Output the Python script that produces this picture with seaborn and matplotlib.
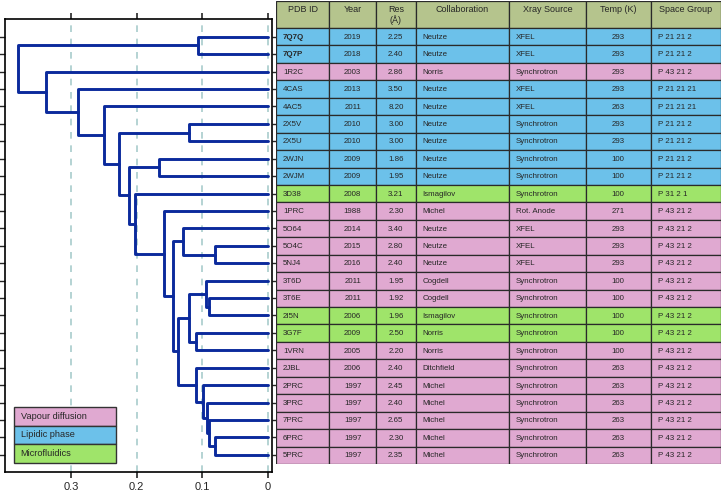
import numpy as np
import pandas as pd
import matplotlib
matplotlib.use("Agg")
import matplotlib.pyplot as plt
from matplotlib.patches import Rectangle
import seaborn as sns

# ---- data ----
pdb_ids = ["7Q7Q", "7Q7P", "1R2C", "4CAS", "4AC5", "2X5V", "2X5U", "2WJN", "2WJM", "3D38",
           "1PRC", "5O64", "5O4C", "5NJ4", "3T6D", "3T6E", "2I5N", "3G7F", "1VRN", "2JBL",
           "2PRC", "3PRC", "7PRC", "6PRC", "5PRC"]
years = ["2019", "2018", "2003", "2013", "2011", "2010", "2010", "2009", "2009", "2008",
         "1988", "2014", "2015", "2016", "2011", "2011", "2006", "2009", "2005", "2006",
         "1997", "1997", "1997", "1997", "1997"]
resolution = ["2.25", "2.40", "2.86", "3.50", "8.20", "3.00", "3.00", "1.86", "1.95", "3.21",
              "2.30", "3.40", "2.80", "2.40", "1.95", "1.92", "1.96", "2.50", "2.20", "2.40",
              "2.45", "2.40", "2.65", "2.30", "2.35"]
collaboration = ["Neutze", "Neutze", "Norris", "Neutze", "Neutze", "Neutze", "Neutze", "Neutze",
                 "Neutze", "Ismagilov", "Michel", "Neutze", "Neutze", "Neutze", "Cogdell",
                 "Cogdell", "Ismagilov", "Norris", "Norris", "Ditchfield", "Michel", "Michel",
                 "Michel", "Michel", "Michel"]
xray_source = ["XFEL", "XFEL", "Synchrotron", "XFEL", "XFEL", "Synchrotron", "Synchrotron",
               "Synchrotron", "Synchrotron", "Synchrotron", "Rot. Anode", "XFEL", "XFEL", "XFEL",
               "Synchrotron", "Synchrotron", "Synchrotron", "Synchrotron", "Synchrotron",
               "Synchrotron", "Synchrotron", "Synchrotron", "Synchrotron", "Synchrotron",
               "Synchrotron"]
temperature = ["293", "293", "293", "293", "263", "293", "293", "100", "100", "100",
               "271", "293", "293", "293", "100", "100", "100", "100", "100", "263",
               "263", "263", "263", "263", "263"]
space_group = ["P 21 21 2", "P 21 21 2", "P 43 21 2", "P 21 21 21", "P 21 21 21",
               "P 21 21 2", "P 21 21 2", "P 21 21 2", "P 21 21 2", "P 31 2 1"] + ["P 43 21 2"] * 15
method = ["Lipidic phase", "Lipidic phase", "Vapour diffusion", "Lipidic phase", "Lipidic phase",
          "Lipidic phase", "Lipidic phase", "Lipidic phase", "Lipidic phase", "Microfluidics",
          "Vapour diffusion", "Vapour diffusion", "Vapour diffusion", "Vapour diffusion",
          "Vapour diffusion", "Vapour diffusion", "Microfluidics", "Microfluidics",
          "Vapour diffusion", "Vapour diffusion", "Vapour diffusion", "Vapour diffusion",
          "Vapour diffusion", "Vapour diffusion", "Vapour diffusion"]
bold_ids = ["7Q7Q", "7Q7P"]

# linkage (scipy style): child a, child b, distance ; new clusters numbered from 25
link_a = [23, 12, 22, 15, 21, 14, 20, 0, 17, 19, 30, 5, 11, 35, 37, 10, 7, 9, 41, 36, 4, 3, 2, 32]
link_b = [24, 13, 25, 16, 27, 28, 29, 1, 18, 31, 33, 6, 26, 34, 38, 39, 8, 40, 42, 43, 44, 45, 46, 47]
link_h = [0.081, 0.081, 0.090, 0.090, 0.093, 0.095, 0.099, 0.106, 0.110, 0.110, 0.120, 0.121,
          0.130, 0.137, 0.144, 0.158, 0.166, 0.203, 0.212, 0.227, 0.250, 0.290, 0.338, 0.380]

headers = ["PDB ID", "Year", "Res\n(Å)", "Collaboration", "Xray Source", "Temp (K)", "Space Group"]
legend_order = ["Vapour diffusion", "Lipidic phase", "Microfluidics"]

# ---- style ----
method_colors = {"Vapour diffusion": "#e0a9d1", "Lipidic phase": "#6cc1ea", "Microfluidics": "#9fe46a"}
header_color = "#b5c48d"
line_color = "#0b2a9c"

sns.set_style("ticks")
plt.rcParams["font.family"] = ["Liberation Sans", "DejaVu Sans"]

W, H = 721, 492
fig = plt.figure(figsize=(W / 100, H / 100), dpi=100)

# ---- dendrogram ----
n = len(pdb_ids)
pos = {i: (float(i), 0.0) for i in range(n)}
rows = []
for k, (a, b, h) in enumerate(zip(link_a, link_b, link_h)):
    ya, ha = pos[a]
    yb, hb = pos[b]
    for j, (xx, yy) in enumerate([(ha, ya), (h, ya), (h, yb), (hb, yb)]):
        rows.append({"link": k, "order": j, "height": xx, "pos": yy})
    pos[n + k] = ((ya + yb) / 2, h)
seg = pd.DataFrame(rows)

ax = fig.add_axes([5 / W, 1 - 472.3 / H, 267 / W, 453 / H])
sns.lineplot(data=seg, x="height", y="pos", units="link", estimator=None, sort=False,
             color=line_color, linewidth=2.1, ax=ax, legend=False)
ax.set_xlim(0.4005, -0.0061)
ax.set_ylim(n, -1)
ax.set_xlabel("")
ax.set_ylabel("")
ax.set_xticks([0.3, 0.2, 0.1, 0])
ax.set_xticklabels(["0.3", "0.2", "0.1", "0"], fontsize=8)
ax.set_yticks(range(n))
ax.set_yticklabels([])
ax.tick_params(axis="x", top=True, bottom=True, labeltop=False, length=4, width=1.2, pad=3)
ax.tick_params(axis="y", left=True, right=True, length=4, width=1.0)
ax.grid(axis="x", color="#a8cccc", linestyle=(0, (4, 4)), linewidth=1.2)
ax.set_axisbelow(True)
for s in ax.spines.values():
    s.set_linewidth(1.2)
    s.set_color("black")

# legend box
lx0, lw = 9 / 267, 101.7 / 267
lh = 18.9 / 453
ly0 = 9 / 453
for i, m in enumerate(legend_order):
    yb = ly0 + (len(legend_order) - 1 - i) * lh
    ax.add_patch(Rectangle((lx0, yb), lw, lh, transform=ax.transAxes, facecolor=method_colors[m],
                           edgecolor="#333333", linewidth=1.0, zorder=5))
    ax.text(lx0 + 0.025, yb + lh / 2, m, transform=ax.transAxes, fontsize=6.6,
            va="center", ha="left", zorder=6)

# ---- table ----
col_w = [53.3, 46.7, 39.7, 93.3, 76.7, 65.0, 70.3]
col_align = ["left", "center", "center", "left", "left", "center", "left"]
edges = np.concatenate([[0], np.cumsum(col_w)])
head_h = 27.0 / 17.44

axt = fig.add_axes([276 / W, 1 - 464 / H, 445 / W, 463 / H])
axt.set_xlim(0, edges[-1])
axt.set_ylim(n - 0.5, -0.5 - head_h)
axt.axis("off")

table = [pdb_ids, years, resolution, collaboration, xray_source, temperature, space_group]
for c in range(len(col_w)):
    axt.add_patch(Rectangle((edges[c], -0.5 - head_h), col_w[c], head_h, facecolor=header_color,
                            edgecolor="#2a2a2a", linewidth=0.9))
    axt.text((edges[c] + edges[c + 1]) / 2, -0.5 - head_h + 0.22, headers[c], fontsize=6.5,
             ha="center", va="top", linespacing=1.2)
    for r in range(n):
        axt.add_patch(Rectangle((edges[c], r - 0.5), col_w[c], 1, facecolor=method_colors[method[r]],
                                edgecolor="#2a2a2a", linewidth=0.9))
        xt = edges[c] + 7 if col_align[c] == "left" else (edges[c] + edges[c + 1]) / 2
        weight = "bold" if (c == 0 and pdb_ids[r] in bold_ids) else "normal"
        axt.text(xt, r + 0.03, table[c][r], fontsize=5.7, ha=col_align[c], va="center",
                 fontweight=weight)

fig.savefig("out.png", dpi=100)
